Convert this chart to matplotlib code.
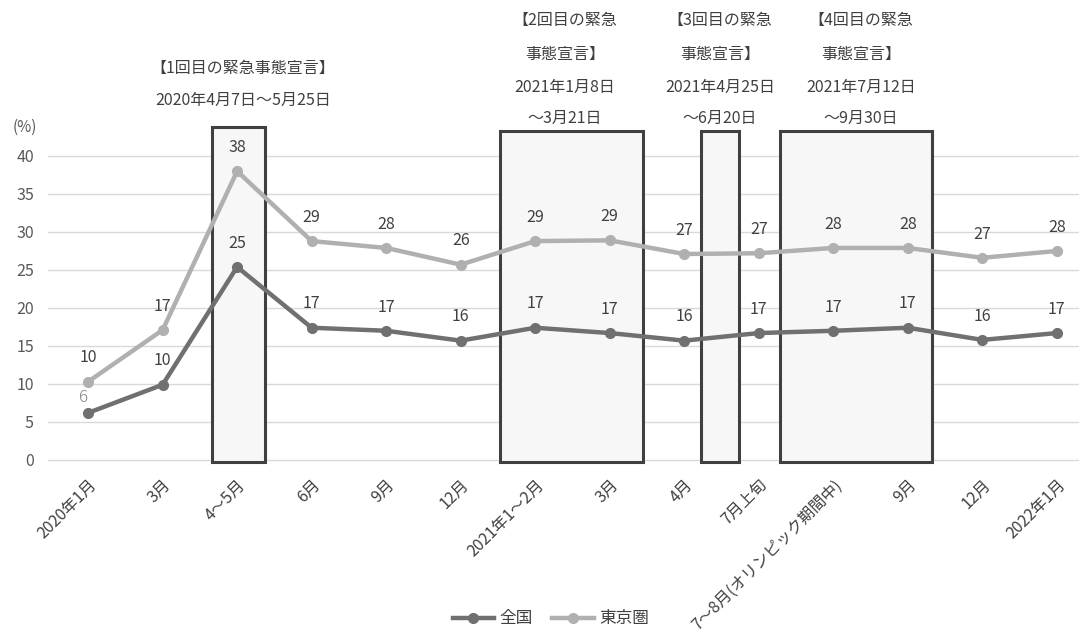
import matplotlib
matplotlib.use('Agg')
import matplotlib.pyplot as plt
from matplotlib.patches import Rectangle
import numpy as np

plt.rcParams['font.family'] = ['Noto Sans CJK JP', 'DejaVu Sans']

categories = ['2020年1月', '3月', '4～5月', '6月', '9月', '12月', '2021年1～2月', '3月',
              '4月', '7月上旬', '7～8月(オリンピック期間中)', '9月', '12月', '2022年1月']
zenkoku = [6.2, 9.9, 25.4, 17.4, 17.0, 15.7, 17.4, 16.7, 15.7, 16.7, 17.0, 17.4, 15.8, 16.7]
tokyo = [10.3, 17.1, 38.0, 28.8, 27.9, 25.7, 28.8, 28.9, 27.1, 27.2, 27.9, 27.9, 26.6, 27.5]

# emergency declaration periods (category positions) and their notes
periods = [(1.66, 2.37), (5.53, 7.44), (8.23, 8.74), (9.28, 11.32)]
period_tops = [43.8, 43.3, 43.3, 43.3]
period_notes = [
    ['【1回目の緊急事態宣言】', '2020年4月7日～5月25日'],
    ['【2回目の緊急', '事態宣言】', '2021年1月8日', '～3月21日'],
    ['【3回目の緊急', '事態宣言】', '2021年4月25日', '～6月20日'],
    ['【4回目の緊急', '事態宣言】', '2021年7月12日', '～9月30日'],
]

fig = plt.figure(figsize=(10.8, 6.31), dpi=100, facecolor='white')
ax = fig.add_axes([0.0443, 0.265, 0.955, 0.536])
x = np.arange(len(categories))

for (x0, x1), top in zip(periods, period_tops):
    ax.add_patch(Rectangle((x0, -0.3), x1 - x0, top + 0.3, facecolor='#f7f7f7',
                           edgecolor='#404040', linewidth=2.2, zorder=1, clip_on=False))

ax.plot(x, zenkoku, color='#707070', linewidth=3.2, marker='o', markersize=7,
        label='全国', zorder=3)
ax.plot(x, tokyo, color='#b0b0b0', linewidth=3.2, marker='o', markersize=7,
        label='東京圏', zorder=3)

for i, (z, t) in enumerate(zip(zenkoku, tokyo)):
    if i == 0:
        ax.annotate(f'{round(z)}', (i, z), xytext=(-3, 5), textcoords='offset points',
                    ha='center', va='bottom', fontsize=12, color='#808080',
                    fontweight='light', zorder=4)
    else:
        ax.annotate(f'{round(z)}', (i, z), xytext=(0, 11), textcoords='offset points',
                    ha='center', va='bottom', fontsize=11.5, color='#404040', zorder=4)
    ax.annotate(f'{round(t)}', (i, t), xytext=(0, 11), textcoords='offset points',
                ha='center', va='bottom', fontsize=11.5, color='#404040', zorder=4)

ax.set_xlim(-0.54, 13.3)
ax.set_ylim(-0.5, 44)
ax.set_yticks(range(0, 41, 5))
ax.yaxis.grid(True, color='#d9d9d9', linewidth=1)
ax.set_axisbelow(True)
for s in ax.spines.values():
    s.set_visible(False)
ax.tick_params(axis='both', length=0, labelsize=11.5, colors='#595959')
ax.tick_params(axis='y', pad=10)
ax.set_xticks(x)
ax.set_xticklabels(categories, rotation=45, ha='right', rotation_mode='anchor',
                   color='#404040', fontsize=11.5)
ax.tick_params(axis='x', pad=9)

fig.text(0.023, 0.799, '(%)', fontsize=11, color='#595959', ha='center', va='center')

# notes over the periods, positioned by figure pixel centre
note_centres = [243, 565, 720, 861]
for cx, lines in zip(note_centres, period_notes):
    if len(lines) == 2:
        ys = [68, 100]
    else:
        ys = [20, 54, 87, 118]
    for yy, line in zip(ys, lines):
        fig.text(cx / 1080, 1 - yy / 631, line, fontsize=11.5, color='#404040',
                 ha='center', va='center')

handles, labels = ax.get_legend_handles_labels()
fig.legend(handles, labels, loc='center', bbox_to_anchor=(0.51, 1 - 619 / 631), ncol=2,
           frameon=False, fontsize=12, handlelength=2.5, columnspacing=1.2,
           handletextpad=0.3, labelcolor='#404040')

fig.savefig('out.png', dpi=100, facecolor='white')
